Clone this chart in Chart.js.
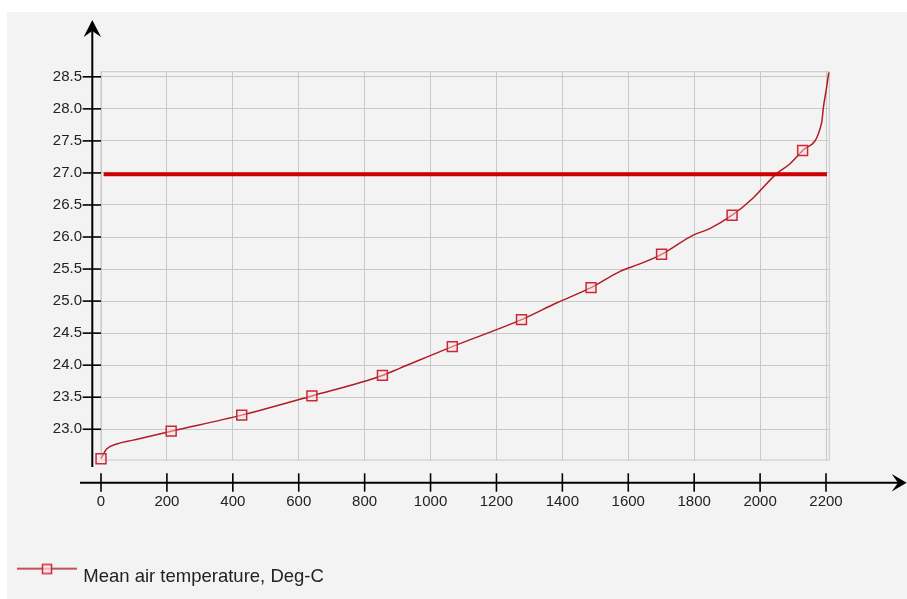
<!DOCTYPE html>
<html><head><meta charset="utf-8">
<script src="https://cdn.jsdelivr.net/npm/chart.js@4.4.1/dist/chart.umd.min.js"></script>
<style>html,body{margin:0;padding:0;background:#fff;}canvas{display:block;}</style>
</head><body>
<canvas id="c" width="907" height="599"></canvas>
<script>
// ---- data ----
const seriesLabel = 'Mean air temperature, Deg-C';
const xValues     = [0, 17, 48, 97, 213, 427, 640, 854, 906, 1066, 1276, 1382, 1487, 1574, 1635, 1701, 1797, 1847, 1915, 1979, 2050, 2090, 2129, 2187, 2192, 2202, 2207, 2209];
const temperature = [22.54, 22.69, 22.77, 22.83, 22.97, 23.22, 23.52, 23.84, 23.95, 24.29, 24.71, 24.97, 25.21, 25.46, 25.58, 25.73, 26.03, 26.13, 26.34, 26.61, 26.99, 27.14, 27.35, 27.79, 28.02, 28.34, 28.52, 28.57];
const markerX     = [0, 213, 427, 640, 854, 1066, 1276, 1487, 1701, 1915, 2129];
const thresholdX  = [8, 2203];
const thresholdY  = [26.98, 26.98];
const xTicks      = [0, 200, 400, 600, 800, 1000, 1200, 1400, 1600, 1800, 2000, 2200];
const yTicks      = [23.0, 23.5, 24.0, 24.5, 25.0, 25.5, 26.0, 26.5, 27.0, 27.5, 28.0, 28.5];

Chart.defaults.font.family = "'Liberation Sans', Arial, sans-serif";

const lineColor = '#b01c24';
const markColor = '#c82838';

function legendIcon() {
  const c = document.createElement('canvas');
  c.width = 60; c.height = 30;
  const g = c.getContext('2d');
  g.strokeStyle = lineColor; g.lineWidth = 1.5;
  g.beginPath(); g.moveTo(0, 7.25); g.lineTo(60, 7.25); g.stroke();
  g.fillStyle = 'rgba(255,225,225,0.7)';
  g.fillRect(25.5, 3, 9, 9);
  g.strokeStyle = markColor; g.lineWidth = 1.5;
  g.strokeRect(25.5, 3, 9, 9);
  return c;
}
const icon = legendIcon();

const decor = {
  id: 'decor',
  beforeDraw(chart) {
    const c = chart.ctx;
    c.save();
    c.fillStyle = '#ffffff'; c.fillRect(0, 0, chart.width, chart.height);
    c.fillStyle = '#f3f3f3'; c.fillRect(7, 12, chart.width - 7, chart.height - 12);
    c.restore();
  },
  beforeDatasetsDraw(chart) {
    const c = chart.ctx, A = chart.chartArea;
    c.save();
    c.strokeStyle = '#c8c8c8'; c.lineWidth = 1;
    c.strokeRect(A.left, A.top, A.right - A.left, A.bottom - A.top);
    c.restore();
  },
  afterDraw(chart) {
    const c = chart.ctx, A = chart.chartArea, xs = chart.scales.x, ys = chart.scales.y;
    const ax = A.left - 8.7, ay = A.bottom + 22.7;
    c.save();
    c.strokeStyle = '#000'; c.fillStyle = '#000'; c.lineWidth = 2;
    const line = (x1, y1, x2, y2) => { c.beginPath(); c.moveTo(x1, y1); c.lineTo(x2, y2); c.stroke(); };
    line(ax, 28, ax, A.bottom + 7);
    c.beginPath(); c.moveTo(ax, 20); c.lineTo(ax + 8.7, 37); c.lineTo(ax, 31); c.lineTo(ax - 8.7, 37); c.closePath(); c.fill();
    line(A.left - 21, ay, 900, ay);
    c.beginPath(); c.moveTo(906.7, ay); c.lineTo(891.7, ay - 8.7); c.lineTo(898, ay); c.lineTo(891.7, ay + 8.7); c.closePath(); c.fill();
    c.lineWidth = 1.6;
    ys.ticks.forEach(t => { const py = ys.getPixelForValue(t.value); line(A.left - 18.3, py, A.left, py); });
    xs.ticks.forEach(t => { const px = xs.getPixelForValue(t.value); line(px, ay - 9.4, px, ay + 9); });
    c.restore();
  }
};

new Chart(document.getElementById('c'), {
  type: 'line',
  data: {
    datasets: [
      {
        label: seriesLabel,
        data: xValues.map((x, i) => ({ x: x, y: temperature[i] })),
        borderColor: lineColor,
        borderWidth: 1.5,
        cubicInterpolationMode: 'monotone',
        pointStyle: 'rect',
        pointRadius: ctx => markerX.includes(xValues[ctx.dataIndex]) ? 7 : 0,
        pointBorderColor: markColor,
        pointBorderWidth: 1.5,
        pointBackgroundColor: 'rgba(255,225,225,0.45)',
        clip: false,
        order: 1
      },
      {
        label: 'threshold',
        data: thresholdX.map((x, i) => ({ x: x, y: thresholdY[i] })),
        borderColor: '#d00000',
        borderWidth: 4,
        pointRadius: 0,
        order: 0
      }
    ]
  },
  options: {
    responsive: false,
    animation: false,
    events: [],
    layout: { padding: { left: 0, top: 71.7, right: 77.7, bottom: 3.25 } },
    scales: {
      x: {
        type: 'linear', min: 0, max: 2210,
        afterBuildTicks: s => { s.ticks = xTicks.map(v => ({ value: v })); },
        afterFit: s => { s.height = 87.25; },
        ticks: { padding: 33, color: '#222', font: { size: 15 }, maxRotation: 0, autoSkip: false, callback: v => String(v) },
        grid: { color: '#c8c8c8', drawTicks: false },
        border: { display: false }
      },
      y: {
        type: 'linear', min: 22.52, max: 28.58,
        afterBuildTicks: s => { s.ticks = yTicks.map(v => ({ value: v })); },
        afterFit: s => { s.width = 101; },
        ticks: { padding: 19, color: '#222', font: { size: 15 }, autoSkip: false, callback: v => Number(v).toFixed(1) },
        grid: { color: '#c8c8c8', drawTicks: false },
        border: { display: false }
      }
    },
    plugins: {
      tooltip: { enabled: false },
      legend: {
        position: 'bottom', align: 'start',
        labels: {
          usePointStyle: true, pointStyleWidth: 54, padding: 20,
          color: '#222', font: { size: 18.5 },
          filter: item => item.datasetIndex === 0,
          generateLabels: chart => Chart.defaults.plugins.legend.labels.generateLabels(chart)
            .map(it => Object.assign(it, { pointStyle: icon, fontColor: '#222' }))
        }
      }
    }
  },
  plugins: [decor]
});
</script>
</body></html>
